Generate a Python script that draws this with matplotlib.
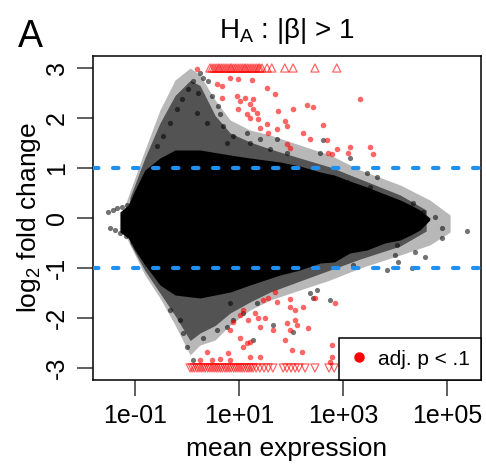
import numpy as np
import matplotlib
matplotlib.use("Agg")
import matplotlib.pyplot as plt
from matplotlib.lines import Line2D

plt.rcParams['font.family'] = ['Liberation Sans', 'DejaVu Sans']
plt.rcParams['mathtext.fontset'] = 'custom'
plt.rcParams['mathtext.rm'] = 'Liberation Sans'
plt.rcParams['mathtext.it'] = 'Liberation Sans:italic'

# ---- data (log10 mean expression, log2 fold change) ----
# dense core of the MA cloud
core_x = [-1.29, -1.13, -1.0, -0.81, -0.52, -0.23, 0.25, 0.83, 1.21, 1.79,
          2.17, 2.56, 2.83, 3.13, 3.46, 3.8, 4.1, 4.3, 4.48, 4.67]
core_hi = [0.12, 0.26, 0.56, 0.96, 1.2, 1.36, 1.36, 1.26, 1.2, 1.12,
           1.04, 0.92, 0.86, 0.74, 0.62, 0.48, 0.36, 0.26, 0.16, 0.0]
core_lo = [-0.28, -0.4, -0.64, -0.94, -1.34, -1.54, -1.6, -1.48, -1.34, -1.14,
           -1.04, -0.9, -0.88, -0.7, -0.64, -0.5, -0.44, -0.34, -0.24, -0.04]

# crowded band just around the core
dense_x = [-1.1, -0.81, -0.52, -0.23, 0.06, 0.25, 0.54, 0.83, 1.21, 1.6,
           2.17, 2.75, 3.33, 4.1, 4.6]
dense_hi = [0.4, 1.2, 1.9, 2.45, 2.75, 2.65, 2.05, 1.7, 1.52, 1.38,
            1.2, 1.02, 0.78, 0.46, 0.16]
dense_lo = [-0.5, -1.05, -1.5, -1.95, -2.45, -2.3, -2.15, -1.9, -1.68, -1.48,
            -1.26, -1.04, -0.82, -0.56, -0.26]

# sparse outer fringe
halo_x = [-1.19, -0.81, -0.52, -0.23, 0.06, 0.25, 0.54, 0.83, 1.21, 1.6,
          2.17, 2.75, 3.33, 4.1, 4.67, 5.06]
halo_hi = [0.26, 1.36, 2.16, 2.76, 3.0, 2.86, 2.36, 1.96, 1.76, 1.66,
           1.46, 1.26, 0.96, 0.66, 0.36, 0.06]
halo_lo = [-0.34, -1.14, -1.6, -2.14, -2.74, -2.54, -2.44, -2.14, -1.84, -1.64,
           -1.44, -1.24, -1.0, -0.74, -0.54, -0.28]

# individual black (non significant) genes outside the core
gray_x = [-1.52, -1.43, -1.34, -1.25, -1.15, -1.06, -1.48, -1.38, -1.28, -1.17,
          -1.06, -0.96,
          0.25, 0.12, 0.31, 0.4, 0.02, 0.21, -0.1, 0.48, 0.6, -0.19, 0.19, 0.63,
          -0.33, 0.38, 0.69, 0.88, 0.77, 1.15, 1.21, 1.4, 1.73, 1.92, 1.6, -0.46,
          -0.58, 2.62, 2.56, 3.13, 3.46, 3.52, 3.65, 3.08,
          5.38, 4.9, 4.9, 4.77, 4.54, 4.35, 4.04, 4.0, 4.38, 4.58, 4.33, 4.06,
          3.85, 3.2,
          -0.33, -0.13, -0.08, 0.0, 0.12, 0.31, 0.58, 0.77, 0.88, 1.08, 1.35,
          1.27, 1.65, 2.04, 2.37, 2.5, 2.75, 2.42, 0.83]
gray_y = [0.12, 0.15, 0.19, 0.22, 0.26, 0.3, -0.2, -0.25, -0.3, -0.36,
          -0.42, -0.48,
          2.9, 2.74, 2.8, 2.74, 2.58, 2.5, 2.38, 2.44, 2.24, 2.18, 2.1, 2.08,
          1.9, 1.9, 1.84, 1.64, 1.5, 1.7, 1.5, 1.58, 1.58, 1.3, 1.38, 1.64,
          1.44, 1.56, 1.3, 1.2, 0.9, 0.62, 0.82, 0.72,
          -0.26, -0.2, -0.4, 0.02, 0.12, 0.3, -0.54, -0.74, -0.68, -0.78, -1.0,
          -0.88, -1.04, -0.94,
          -1.84, -2.04, -2.3, -2.58, -2.84, -2.4, -2.24, -2.18, -2.04, -1.9, -1.7,
          -2.44, -2.14, -2.28, -1.5, -1.44, -1.64, -1.6, -1.7]

# significant genes (adj. p < .1) inside the y range
red_x = [0.19, 0.83, 0.98, 1.25, 0.58, 0.67, 1.54, 1.69, 0.67, 0.96, 1.12,
         1.27, 1.02, 1.21, 0.98, 1.27, 1.35, 1.15, 1.21, 1.37, 1.75, 2.04,
         2.31, 2.42, 1.54, 1.73, 1.92, 1.88, 1.4, 1.56, 2.23, 2.37, 1.92, 1.98,
         3.33, 2.62, 2.69, 2.71, 2.79, 2.88, 3.13, 3.1, 3.52, 3.58,
         1.69, 1.46, 1.56, 1.73, 1.98, 2.46, 2.85, 1.98, 2.23, 2.08, 1.08, 1.02,
         1.31, 1.17, 1.37, 1.5, 0.88, 0.83, 1.4, 1.65, 1.92, 2.08, 2.12, 2.33,
         1.98, 1.02, 1.88, 1.15, 1.08, 1.21, 0.38, 0.79, 2.02, 2.21, 1.21, 1.4,
         0.25, 0.48, 0.63, 0.83, 2.79, 2.79, 2.75]
red_y = [2.98, 2.8, 2.78, 2.76, 2.68, 2.64, 2.6, 2.48, 2.4, 2.44, 2.4,
         2.38, 2.34, 2.28, 2.18, 2.18, 2.1, 2.08, 2.0, 1.98, 2.14, 2.18,
         2.26, 2.22, 1.88, 1.78, 1.84, 1.94, 1.8, 1.7, 1.7, 1.58, 1.48, 1.4,
         2.38, 1.86, 1.56, 1.3, 1.28, 1.38, 1.42, 1.3, 1.42, 1.28,
         -1.48, -1.64, -1.6, -1.68, -1.62, -1.6, -1.7, -1.78, -1.78, -1.84, -1.84,
         -1.94, -1.9, -2.04, -2.0, -2.0, -2.08, -2.24, -2.18, -2.24, -2.1, -2.04,
         -2.14, -2.2, -2.24, -2.4, -2.44, -2.5, -2.58, -2.48, -2.68, -2.7, -2.64,
         -2.68, -2.78, -2.78, -2.84, -2.84, -2.82, -2.84, -2.54, -2.78, -2.88]

# significant genes beyond the y range (drawn at the limit)
up_x = [0.44, 0.48, 0.52, 0.56, 0.6, 0.63, 0.67, 0.71, 0.75, 0.79, 0.83,
        0.86, 0.9, 0.94, 0.98, 1.02, 1.06, 1.1, 1.13, 1.17, 1.21, 1.25, 1.29,
        1.33, 1.37, 1.4, 1.44, 1.54, 1.63, 1.88, 2.04, 2.46, 2.88]
down_x = [0.06, 0.1, 0.14, 0.19, 0.23, 0.27, 0.31, 0.35, 0.4, 0.44, 0.48,
          0.52, 0.56, 0.6, 0.64, 0.68, 0.73, 0.77, 0.81, 0.85, 0.9, 0.94,
          0.98, 1.02, 1.06, 1.1, 1.15, 1.19, 1.23, 1.27, 1.33, 1.4, 1.48,
          1.56, 1.65, 1.85, 1.92, 2.0, 2.08, 2.15, 2.27, 2.46, 2.73, 2.83]
y_clip = 3.0

lfc_threshold = 1.0
x_ticks = [1e-1, 1e1, 1e3, 1e5]
x_ticklabels = ['1e-01', '1e+01', '1e+03', '1e+05']
y_ticks = [-3, -2, -1, 0, 1, 2, 3]

# ---- figure ----
fig = plt.figure(figsize=(4.86, 4.69), dpi=100)
ax = fig.add_axes([93/486, 1 - 380/469, 388/486, 324/469])

def tolin(v):
    return np.power(10.0, np.asarray(v, dtype=float))

ax.fill_between(tolin(halo_x), halo_lo, halo_hi, color='black', alpha=0.28,
                lw=0, zorder=1)
ax.fill_between(tolin(dense_x), dense_lo, dense_hi, color='black', alpha=0.55,
                lw=0, zorder=1.5)
ax.fill_between(tolin(core_x), core_lo, core_hi, color='black', lw=0, zorder=2)
ax.scatter(tolin(gray_x), gray_y, s=14, color='black', alpha=0.55, lw=0, zorder=3)
ax.scatter(tolin(red_x), red_y, s=16, color='red', alpha=0.6, lw=0, zorder=4)
ax.scatter(tolin(up_x), [y_clip] * len(up_x), s=34, marker='^', facecolors='none',
           edgecolors='red', alpha=0.6, lw=0.9, zorder=4)
ax.scatter(tolin(down_x), [-y_clip] * len(down_x), s=34, marker='v', facecolors='none',
           edgecolors='red', alpha=0.6, lw=0.9, zorder=4)

for h in (lfc_threshold, -lfc_threshold):
    ax.axhline(h, color='#1f8ff0', lw=3, dashes=(1.3, 3.5),
               dash_capstyle='round', zorder=5)

ax.set_xscale('log')
ax.set_xlim(10 ** -1.808, 10 ** 5.654)
ax.set_ylim(-3.24, 3.24)
ax.set_xticks(x_ticks)
ax.set_xticklabels(x_ticklabels)
ax.xaxis.set_minor_locator(matplotlib.ticker.NullLocator())
ax.set_yticks(y_ticks)
ax.set_yticklabels([str(v) for v in y_ticks], rotation=90, va='center')
ax.tick_params(length=11.5, width=1.1, labelsize=18, pad=6, color='#333333')
for sp in ax.spines.values():
    sp.set_linewidth(1.1)

ax.set_xlabel('mean expression', fontsize=19, labelpad=6)
ax.set_ylabel(r'log$_2$ fold change', fontsize=19, labelpad=1)
ax.set_title(r'H$_\mathregular{A}$ : |β| > 1', fontsize=20, pad=13)
fig.text(18/486, 1 - 47/469, 'A', fontsize=27, va='baseline', ha='left')

handle = Line2D([], [], marker='o', color='red', ls='none', markersize=6.5)
leg = ax.legend([handle], ['adj. p < .1'], loc='lower right', fontsize=15,
                frameon=True, fancybox=False, framealpha=1, edgecolor='black',
                borderaxespad=0, borderpad=0.55, handlelength=0.8,
                handletextpad=0.5)
leg.get_frame().set_linewidth(1.1)
leg.set_zorder(10)

fig.savefig('out.png', dpi=100)
